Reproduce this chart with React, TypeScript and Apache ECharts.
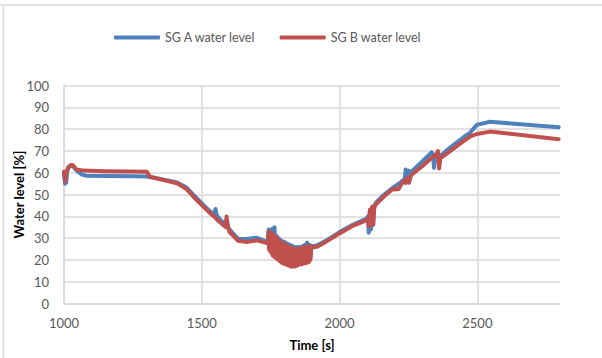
import React, { useEffect, useRef } from "react";
import * as echarts from "echarts";

const seriesNames = ["SG A water level", "SG B water level"];
const xTicks = { min: 1000, max: 2800, interval: 500 };
const yTicks = { min: 0, max: 100, interval: 10 };

// [time s, level %]
const sgA: [number, number][] = [
  [1000, 60], [1004, 55], [1008, 55.5], [1012, 61], [1020, 63], [1030, 63.5], [1040, 62],
  [1050, 60.5], [1065, 59.2], [1080, 58.7], [1150, 58.5], [1250, 58.4], [1300, 58.3],
  [1350, 57.2], [1410, 55.6], [1445, 53.2], [1470, 49.8], [1500, 46], [1530, 42.3],
  [1545, 41], [1550, 43.4], [1554, 40.5], [1570, 38], [1578, 36.8], [1585, 37.8], [1590, 36],
  [1600, 34], [1632, 29.7], [1660, 29.6], [1700, 30.2], [1723, 29], [1740, 28.3],
  [1743, 34], [1746, 25], [1750, 33.5], [1753, 24], [1757, 34.5], [1760, 23], [1764, 35],
  [1767, 22], [1772, 31], [1776, 21], [1780, 30], [1784, 20.5], [1788, 29], [1792, 20],
  [1796, 28.5], [1800, 19.5], [1804, 28], [1808, 19], [1812, 27.5], [1816, 18.5],
  [1820, 27], [1824, 18], [1828, 26.5], [1832, 18], [1836, 26], [1840, 18], [1844, 26],
  [1848, 18.5], [1852, 26], [1856, 19], [1860, 26], [1864, 19], [1868, 26.5], [1872, 19.5],
  [1876, 27], [1880, 19.5], [1882, 28], [1886, 20], [1890, 27], [1894, 21], [1898, 26.5],
  [1905, 26.3], [1920, 26.8], [1950, 28.8], [2000, 32.8], [2050, 36.3], [2098, 39],
  [2103, 40], [2106, 32.5], [2110, 42], [2114, 34], [2118, 44], [2122, 36], [2126, 45],
  [2132, 46.3], [2160, 49.8], [2200, 53.8], [2215, 55], [2237, 57.2], [2240, 61.5],
  [2245, 58.5], [2250, 61], [2258, 60.2], [2300, 65.2], [2334, 69.4], [2339, 68.5],
  [2343, 62.3], [2348, 67.5], [2371, 68.3], [2400, 71.5], [2450, 76.3], [2473, 78.3],
  [2498, 82], [2546, 83.4], [2795, 80.9],
];

const sgB: [number, number][] = [
  [1000, 60.5], [1004, 56], [1008, 60], [1015, 62.5], [1025, 63.6], [1032, 63.5],
  [1045, 61.5], [1070, 61], [1150, 60.7], [1250, 60.6], [1300, 60.5], [1312, 58.2],
  [1350, 57], [1410, 55.2], [1445, 52.5], [1470, 49], [1500, 45.2], [1530, 41.5],
  [1545, 40], [1560, 38], [1578, 36], [1588, 35], [1590, 39.9], [1594, 36.3], [1600, 33],
  [1632, 28.8], [1663, 28.2], [1700, 29], [1723, 28.2], [1740, 27.6],
  [1742, 33], [1744, 25], [1746, 32.8], [1748, 24], [1751, 32.5], [1753, 23], [1756, 32],
  [1758, 22], [1761, 31.5], [1763, 21.5], [1766, 31], [1768, 21], [1771, 30], [1773, 20.5],
  [1776, 29.5], [1778, 20], [1781, 29], [1783, 19.5], [1786, 28], [1788, 19], [1791, 28],
  [1793, 18.5], [1796, 27.5], [1798, 18.5], [1801, 27], [1803, 18], [1806, 27], [1808, 18],
  [1811, 26.5], [1813, 17.5], [1816, 26], [1818, 17.5], [1821, 26], [1823, 17], [1826, 25.5],
  [1828, 17], [1831, 25.5], [1833, 17], [1836, 25], [1838, 17], [1841, 25], [1843, 17.5],
  [1846, 25], [1848, 17.5], [1851, 25], [1853, 18], [1856, 25], [1858, 18], [1861, 25.5],
  [1863, 18], [1866, 25.5], [1868, 18.5], [1871, 26], [1873, 18.5], [1876, 26], [1878, 18.5],
  [1881, 26], [1883, 19], [1886, 26.5], [1888, 19], [1891, 26.5], [1894, 20], [1898, 26],
  [1905, 25.8], [1920, 26.2], [1950, 28.3], [2000, 32.2], [2050, 35.8], [2098, 38.3],
  [2103, 39], [2106, 35.5], [2110, 43], [2114, 36], [2118, 44.4], [2122, 36.5], [2126, 44],
  [2132, 45.5], [2160, 49], [2195, 52.8], [2200, 52.3], [2215, 52.6], [2225, 55],
  [2237, 56.5], [2240, 55.3], [2245, 57.5], [2252, 55.5], [2260, 59], [2300, 63],
  [2340, 67.5], [2352, 68.5], [2357, 70], [2361, 62], [2366, 66.6], [2400, 69.8],
  [2450, 74.5], [2473, 76.6], [2498, 77.8], [2546, 78.9], [2795, 75.4],
];

const colors = ["#4F81BD", "#C0504D"];
const FONT = "Lato, 'Liberation Sans', sans-serif";

export default function App() {
  const ref = useRef<HTMLDivElement>(null);
  useEffect(() => {
    if (!ref.current) return;
    const chart = echarts.init(ref.current, undefined, { renderer: "svg" });
    chart.setOption({
      animation: false,
      color: colors,
      textStyle: { fontFamily: FONT },
      graphic: [
        { type: "line", shape: { x1: 0, y1: 5, x2: 602, y2: 5 }, style: { stroke: "#d9d9d9", lineWidth: 1.5 } },
        { type: "line", shape: { x1: 3.5, y1: 5, x2: 3.5, y2: 358 }, style: { stroke: "#d9d9d9", lineWidth: 1.5 } },
      ],
      legend: {
        top: 31,
        left: 114,
        padding: 0,
        itemWidth: 46,
        itemHeight: 4,
        itemGap: 24,
        icon: "roundRect",
        textStyle: { fontFamily: FONT, fontSize: 12.5, color: "#595959" },
        data: seriesNames,
      },
      grid: { left: 64, right: 42, top: 85.6, bottom: 54.4, containLabel: false, outerBoundsMode: "none" },
      xAxis: {
        type: "value",
        min: xTicks.min,
        max: xTicks.max,
        interval: xTicks.interval,
        name: "Time [s]",
        nameLocation: "middle",
        nameGap: 35,
        nameMoveOverlap: false,
        nameTextStyle: { fontFamily: FONT, fontSize: 13, fontWeight: "bold", color: "#000" },
        axisLine: { show: true, lineStyle: { color: "#d9d9d9", width: 1.5 } },
        axisTick: { show: false },
        axisLabel: {
          fontFamily: FONT,
          fontSize: 13,
          color: "#595959",
          margin: 13,
          showMaxLabel: false,
          formatter: (v: number) => String(v),
        },
        splitLine: { show: true, showMaxLine: false, lineStyle: { color: "#d9d9d9", width: 1.5 } },
      },
      yAxis: {
        type: "value",
        min: yTicks.min,
        max: yTicks.max,
        interval: yTicks.interval,
        name: "Water level [%]",
        nameLocation: "middle",
        nameGap: 39,
        nameMoveOverlap: false,
        nameTextStyle: { fontFamily: FONT, fontSize: 13, fontWeight: "bold", color: "#000" },
        axisLine: { show: true, lineStyle: { color: "#d9d9d9", width: 1.5 } },
        axisTick: { show: false },
        axisLabel: { fontFamily: FONT, fontSize: 13, color: "#595959", margin: 15 },
        splitLine: { show: true, lineStyle: { color: "#d9d9d9", width: 1.5 } },
      },
      series: [
        {
          name: seriesNames[0],
          type: "line",
          data: sgA,
          showSymbol: false,
          symbol: "none",
          lineStyle: { width: 4, color: colors[0], cap: "round", join: "round" },
        },
        {
          name: seriesNames[1],
          type: "line",
          data: sgB,
          showSymbol: false,
          symbol: "none",
          lineStyle: { width: 4, color: colors[1], cap: "round", join: "round" },
        },
      ],
    });
    return () => chart.dispose();
  }, []);
  return (
    <div
      ref={ref}
      style={{ position: "absolute", left: 0, top: 0, width: 602, height: 358, background: "#fff" }}
    />
  );
}
